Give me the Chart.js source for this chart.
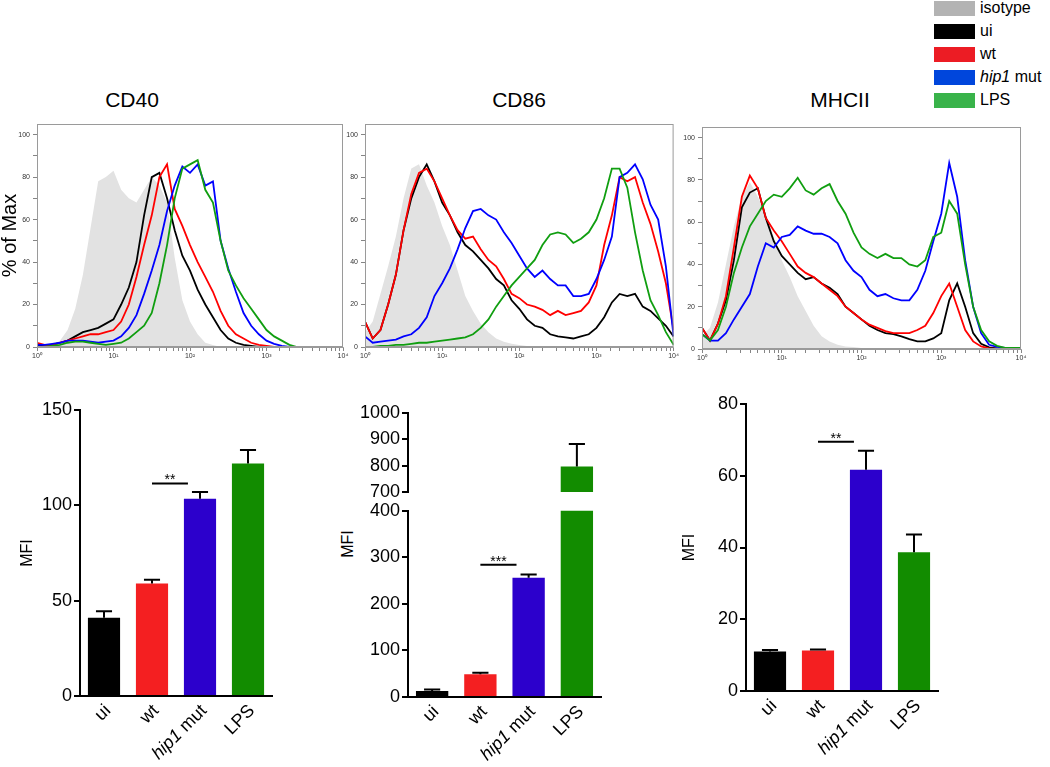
<!DOCTYPE html>
<html>
<head>
<meta charset="utf-8">
<title>CD40 / CD86 / MHCII</title>
<script src="https://cdn.jsdelivr.net/npm/chart.js@4.4.1/dist/chart.umd.min.js"></script>
<style>
  html, body { margin: 0; padding: 0; background: #fff; }
  body { position: relative; width: 1050px; height: 767px; overflow: hidden;
         font-family: "Liberation Sans", Arial, Helvetica, sans-serif; color: #000; }
  canvas { position: absolute; }
  .panel-title { position: absolute; top: 88px; width: 120px; margin-left: -60px; text-align: center; font-size: 21px; line-height: 24px; }
  .ylab { position: absolute; font-size: 16px; transform: translate(-50%, -50%) rotate(-90deg); white-space: nowrap; }
  .leg-row { position: absolute; left: 934px; height: 15px; }
  .leg-sw { position: absolute; left: 0; top: 0; width: 41px; height: 15px; }
  .leg-tx { position: absolute; left: 46px; top: -3px; font-size: 16px; line-height: 20px; white-space: nowrap; }
</style>
</head>
<body>
<div id="legend"></div>
<div id="titles"></div>
<div class="ylab" style="left:348px; top:544px;">MFI</div>

<canvas id="histCD40" width="350" height="260" style="left:0px; top:110px;"></canvas>
<canvas id="histCD86" width="335" height="260" style="left:345px; top:110px;"></canvas>
<canvas id="histMHCII" width="370" height="260" style="left:680px; top:110px;"></canvas>

<canvas id="barCD40" width="300" height="387" style="left:0px; top:380px;"></canvas>
<canvas id="barCD86top" width="300" height="105" style="left:320px; top:400px;"></canvas>
<canvas id="barCD86" width="300" height="269" style="left:320px; top:498px;"></canvas>
<canvas id="barMHCII" width="300" height="387" style="left:680px; top:380px;"></canvas>

<script>
// series / groups
const seriesNames = ['isotype', 'ui', 'wt', 'hip1 mut', 'LPS'];
const legendColors = ['#b3b3b3', '#000000', '#ec1c24', '#0046dc', '#39b34a'];
const lineColors = ['#e2e2e2', '#000000', '#ff0000', '#0000ff', '#109e10'];
const panelTitles = ['CD40', 'CD86', 'MHCII'];
const italicWords = ['hip1'];

// histogram bins (log10 of fluorescence)
const logPos = [0, 0.1, 0.2, 0.3, 0.4, 0.5, 0.6, 0.7, 0.8, 0.9, 1, 1.1, 1.2, 1.3, 1.4, 1.5, 1.6, 1.7, 1.8, 1.9,
                2, 2.1, 2.2, 2.3, 2.4, 2.5, 2.6, 2.7, 2.8, 2.9, 3, 3.1, 3.2, 3.3, 3.4, 3.5, 3.6, 3.7, 3.8, 3.9, 4];
const decadeTicks = [1, 10, 100, 1000, 10000];
const decadeLabels = ['10\u2070', '10\u00B9', '10\u00B2', '10\u00B3', '10\u2074'];
const histYTicks = [0, 5, 10, 15, 20, 25, 30, 35, 40, 45, 50, 55, 60, 65, 70, 75, 80, 85, 90, 95, 100];

// CD40 histograms (% of max)
const isoCD40 = [0, 0, 1, 3, 8, 18, 34, 56, 78, 80, 83, 74, 70, 68, 74, 80, 76, 68, 42, 22, 12, 6, 2, 1, 0, 0, 0, 0, 0, 0, 0, 0, 0, 0, 0, 0, 0, 0, 0, 0, 0];
const uiCD40 = [0.5, 0.5, 1, 2, 3, 5, 7, 8, 9, 11, 13, 20, 28, 40, 62, 80, 82, 70, 55, 43, 36, 27, 20, 14, 8, 4, 2, 1, 0.5, 0, 0, 0, 0, 0, 0, 0, 0, 0, 0, 0, 0];
const wtCD40 = [2, 1, 1, 2, 3, 4, 5, 6, 6, 7, 8, 12, 20, 33, 48, 62, 80, 86, 65, 57, 48, 40, 33, 26, 17, 10, 6, 4, 2, 1, 0.5, 0, 0, 0, 0, 0, 0, 0, 0, 0, 0];
const hipCD40 = [1, 1, 1.5, 2, 3, 3, 3, 2.5, 2, 2.5, 3, 5, 9, 15, 25, 36, 48, 64, 76, 85, 82, 86, 76, 78, 50, 37, 26, 16, 10, 6, 3, 1.5, 0.5, 0, 0, 0, 0, 0, 0, 0, 0];
const lpsCD40 = [0, 0, 0.5, 1, 2, 2.5, 2.5, 2, 1.5, 1, 1.5, 2, 4, 7, 10, 16, 30, 48, 70, 84, 86, 88, 74, 68, 50, 36, 29, 23, 18, 13, 8, 5, 3, 1, 0, 0, 0, 0, 0, 0, 0];

// CD86 histograms
const isoCD86 = [7, 12, 25, 38, 52, 70, 84, 86, 76, 68, 57, 48, 36, 24, 17, 11, 7, 4, 2.5, 1.5, 1, 0.5, 0.5, 0, 0, 0, 0, 0, 0, 0, 0, 0, 0, 0, 0, 0, 0, 0, 0, 0.5, 0.5];
const uiCD86 = [12, 4, 8, 20, 34, 55, 70, 80, 86, 78, 68, 62, 54, 48, 45, 41, 37, 32, 29, 22, 18, 13, 10, 9, 6, 5, 4.5, 4, 5, 6, 9, 14, 21, 25, 24, 25, 19, 17, 13.5, 10, 5];
const wtCD86 = [12, 4, 8, 20, 34, 55, 72, 82, 84, 78, 70, 62, 55, 51, 52, 46, 41, 38, 32, 25, 23, 20, 19, 17.5, 15, 17, 15, 16, 17, 21, 29, 48, 62, 80, 78, 80, 68, 58, 45, 30, 8];
const hipCD86 = [5, 2, 2.5, 3, 3.5, 5, 6, 9, 14, 24, 30, 37, 46, 56, 64, 65, 62, 60, 54, 49, 43, 37, 33, 36, 32, 29, 29, 24, 24, 25, 32, 41, 52, 80, 82, 86, 79, 67, 60, 38, 5];
const lpsCD86 = [0, 0, 0.5, 0.5, 1, 1, 1.5, 2, 2, 2.5, 3, 3.5, 4, 4.5, 6, 9, 13, 19, 24, 29, 33, 37, 41, 48, 53, 54, 53, 49, 51, 54, 60, 70, 84, 84, 75, 54, 36, 22, 15, 7, 1];

// MHCII histograms
const isoMHCII = [6, 10, 22, 40, 58, 72, 79, 72, 64, 53, 42, 34, 25, 18, 11, 6, 3.5, 2, 1.2, 1, 0.5, 0, 0, 0, 0, 0, 0, 0, 0, 0, 0, 0, 0, 0, 0, 0, 0, 0, 0, 0, 0];
const uiMHCII = [10, 4, 12, 23, 42, 67, 74, 76, 62, 51, 44, 40, 36, 33, 34, 31, 29, 26, 20, 17, 14, 11, 9, 7.5, 7, 6, 4.7, 3.6, 3.6, 5, 7.5, 23, 31, 20, 7.5, 2.5, 0.8, 0.3, 0, 0, 0];
const wtMHCII = [10, 4, 12, 25, 48, 72, 82, 76, 62, 56, 51, 45, 39, 36, 34, 31, 28, 25, 20, 17, 14, 11.5, 10, 8.5, 7.5, 7.5, 7.5, 9, 11, 17, 25, 31, 20, 9, 3.6, 1.2, 0.3, 0, 0, 0, 0];
const hipMHCII = [7, 4, 4, 7.5, 14, 20, 26, 39, 50, 48, 53, 54, 58, 56, 54.5, 54.5, 53, 50, 42, 37, 34, 28, 25, 26, 24, 23, 23, 28, 37, 51, 64, 88, 72, 42, 20, 7.5, 2, 1, 0.5, 0.5, 0.5];
const lpsMHCII = [7, 4, 9, 20, 36, 48, 58, 64, 70, 73, 72, 76, 81, 75, 73, 76, 78, 70, 64, 55, 48, 45, 43, 45, 43, 43, 40, 39, 42, 53, 55, 70, 64, 40, 20, 9, 3.6, 1.5, 0.5, 0.5, 0.5];

// MFI bar charts
const categories = ['ui', 'wt', 'hip1 mut', 'LPS'];
const barColors = ['#000000', '#f41f21', '#2c00cc', '#128c00'];
const mfiCD40 = [41, 59, 103.5, 122];
const errCD40 = [3.5, 2, 3.5, 7];
const mfiCD86 = [13, 49, 256, 797];
const errCD86 = [3, 3, 7, 85];
const mfiMHCII = [11, 11.3, 61.7, 38.7];
const errMHCII = [0.4, 0.3, 5.3, 4.9];
// significance bar (wt vs hip1 mut)
const sigLevel = [111.5, 284, 69.5];
const sigStars = ['**', '***', '**'];

const fontFam = '"Liberation Sans", Arial, Helvetica, sans-serif';
Chart.defaults.font.family = fontFam;
Chart.defaults.color = '#000';

// legend + titles
const legendEl = document.getElementById('legend');
seriesNames.forEach((name, k) => {
    const row = document.createElement('div');
    row.className = 'leg-row';
    row.style.top = (1 + 23 * k) + 'px';
    const sw = document.createElement('div');
    sw.className = 'leg-sw';
    sw.style.background = legendColors[k];
    const tx = document.createElement('div');
    tx.className = 'leg-tx';
    tx.innerHTML = name.split(' ').map(w => italicWords.includes(w) ? '<i>' + w + '</i>' : w).join(' ');
    row.appendChild(sw);
    row.appendChild(tx);
    legendEl.appendChild(row);
});
const titleCenters = [132, 519, 840];
panelTitles.forEach((t, i) => {
    const d = document.createElement('div');
    d.className = 'panel-title';
    d.style.left = titleCenters[i] + 'px';
    d.textContent = t;
    document.getElementById('titles').appendChild(d);
});

// grey frame round the histogram plot area
const frameBox = {
    id: 'frameBox',
    afterDatasetsDraw(chart) {
        const a = chart.chartArea, c = chart.ctx;
        c.save();
        c.strokeStyle = '#9a9a9a';
        c.lineWidth = 1;
        c.strokeRect(a.left + 0.5, a.top + 0.5, a.right - a.left - 1, a.bottom - a.top - 1);
        c.restore();
    }
};

function histogram(id, curves, cfg) {
    const datasets = seriesNames.map((name, k) => {
        const iso = k === 0;
        return {
            label: name,
            data: logPos.map((d, i) => ({ x: Math.pow(10, d), y: curves[k][i] })),
            borderColor: iso ? 'rgba(0,0,0,0)' : lineColors[k],
            backgroundColor: lineColors[k],
            borderWidth: iso ? 0 : 1.8,
            fill: iso ? 'origin' : false,
            pointRadius: 0,
            tension: 0,
            order: seriesNames.length - k
        };
    });
    return new Chart(document.getElementById(id), {
        type: 'line',
        data: { datasets },
        options: {
            responsive: false,
            animation: false,
            layout: { padding: { top: cfg.padTop, right: cfg.padRight, bottom: 0, left: 0 } },
            plugins: { legend: { display: false }, tooltip: { enabled: false } },
            scales: {
                x: {
                    type: 'logarithmic',
                    min: 1,
                    max: 10000,
                    afterFit: s => { s.height = cfg.hx; },
                    border: { color: '#9a9a9a', width: 1 },
                    grid: { drawOnChartArea: false, tickLength: 4, color: '#666', lineWidth: 0.8 },
                    ticks: {
                        autoSkip: false, maxRotation: 0, minRotation: 0, padding: 1,
                        color: '#333', font: { size: 7 },
                        callback: v => {
                            const i = decadeTicks.findIndex(t => Math.abs(t - v) < 1e-6 * t);
                            return i >= 0 ? decadeLabels[i] : '';
                        }
                    }
                },
                y: {
                    min: 0,
                    max: 105,
                    afterFit: s => { s.width = cfg.wy; },
                    afterBuildTicks: s => { s.ticks = histYTicks.map(v => ({ value: v })); },
                    border: { color: '#9a9a9a', width: 1 },
                    grid: { drawOnChartArea: false, tickLength: 4, color: '#666', lineWidth: 0.8 },
                    ticks: {
                        padding: 3, color: '#333', font: { size: 7 },
                        callback: v => (v % 20 === 0 ? String(v) : '')
                    },
                    title: {
                        display: !!cfg.ytitle, text: cfg.ytitle || '', color: '#000',
                        font: { size: 20, lineHeight: 1 }, padding: 0
                    }
                }
            }
        },
        plugins: [frameBox]
    });
}

// error bars + significance line
const errorBars = {
    id: 'errorBars',
    afterDatasetsDraw(chart, args, opts) {
        const meta = chart.getDatasetMeta(0);
        const ys = chart.scales.y, xs = chart.scales.x, a = chart.chartArea, c = chart.ctx;
        const vals = chart.data.datasets[0].data;
        c.save();
        c.strokeStyle = '#000';
        c.lineWidth = 2;
        opts.errors.forEach((e, i) => {
            const yBar = ys.getPixelForValue(vals[i]);
            const yTop = ys.getPixelForValue(vals[i] + e);
            if (yBar > a.bottom + 0.5 || yBar < a.top - 0.5 || yTop < a.top - 1) return;
            const x = meta.data[i].x, half = meta.data[i].width / 4;
            c.beginPath();
            c.moveTo(x, yBar);
            c.lineTo(x, yTop);
            c.moveTo(x - half, yTop);
            c.lineTo(x + half, yTop);
            c.stroke();
        });
        const ySig = ys.getPixelForValue(opts.sig);
        if (ySig >= a.top && ySig <= a.bottom) {
            const x1 = xs.getPixelForValue(1);
            const x2 = xs.getPixelForValue(2) - meta.data[2].width * 0.375;
            c.beginPath();
            c.moveTo(x1, ySig);
            c.lineTo(x2, ySig);
            c.stroke();
            c.fillStyle = '#000';
            c.font = '14px ' + fontFam;
            c.textAlign = 'center';
            c.textBaseline = 'alphabetic';
            c.fillText(opts.stars, (x1 + x2) / 2, ySig + 1);
        }
        c.restore();
    }
};

// rotated category labels, with italic gene name
const catLabels = {
    id: 'catLabels',
    afterDraw(chart, args, opts) {
        if (!opts.display) return;
        const xs = chart.scales.x, c = chart.ctx, y0 = chart.chartArea.bottom;
        c.save();
        c.fillStyle = '#000';
        c.textAlign = 'right';
        c.textBaseline = 'middle';
        chart.data.labels.forEach((lab, i) => {
            const x = xs.getPixelForValue(i);
            c.save();
            c.translate(x + 4, y0 + 12);
            c.rotate(-Math.PI / 4);
            c.font = '18px ' + fontFam;
            const space = c.measureText(' ').width;
            const words = lab.split(' ');
            let end = 0;
            for (let w = words.length - 1; w >= 0; w--) {
                c.font = (italicWords.includes(words[w]) ? 'italic ' : '') + '18px ' + fontFam;
                c.fillText(words[w], -end, 0);
                end += c.measureText(words[w]).width + space;
            }
            c.restore();
        });
        c.restore();
    }
};

function barChart(id, means, errs, sig, stars, cfg) {
    return new Chart(document.getElementById(id), {
        type: 'bar',
        data: {
            labels: categories,
            datasets: [{
                data: means,
                backgroundColor: barColors,
                borderWidth: 0,
                barPercentage: 0.67,
                categoryPercentage: 1,
                clip: 0
            }]
        },
        options: {
            responsive: false,
            animation: false,
            layout: { padding: { top: cfg.padTop, right: cfg.padRight, bottom: cfg.padBottom || 0, left: 0 } },
            plugins: {
                legend: { display: false },
                tooltip: { enabled: false },
                errorBars: { errors: errs, sig: sig, stars: stars },
                catLabels: { display: cfg.showX }
            },
            scales: {
                x: {
                    display: cfg.showX,
                    afterFit: s => { s.height = cfg.hx; },
                    grid: { display: false },
                    border: { color: '#000', width: 2 },
                    ticks: { display: false }
                },
                y: {
                    min: cfg.min,
                    max: cfg.max,
                    afterFit: s => { s.width = cfg.wy; },
                    border: { color: '#000', width: 2 },
                    grid: { drawOnChartArea: false, tickLength: 6, color: '#000', lineWidth: 2 },
                    ticks: { stepSize: cfg.step, color: '#000', padding: 2, font: { size: 18 }, callback: v => String(v) },
                    title: {
                        display: !!cfg.ytitle, text: cfg.ytitle || '', color: '#000',
                        font: { size: 16, lineHeight: 1 }, padding: { top: cfg.titlePad || 0, bottom: 0 }
                    }
                }
            }
        },
        plugins: [errorBars, catLabels]
    });
}

document.addEventListener('DOMContentLoaded', () => {
    histogram('histCD40', [isoCD40, uiCD40, wtCD40, hipCD40, lpsCD40],
        { padTop: 14, padRight: 7, hx: 23, wy: 37, ytitle: '% of Max' });
    histogram('histCD86', [isoCD86, uiCD86, wtCD86, hipCD86, lpsCD86],
        { padTop: 14, padRight: 3, hx: 23, wy: 20 });
    histogram('histMHCII', [isoMHCII, uiMHCII, wtMHCII, hipMHCII, lpsMHCII],
        { padTop: 17, padRight: 29, hx: 21, wy: 22 });

    barChart('barCD40', mfiCD40, errCD40, sigLevel[0], sigStars[0],
        { padTop: 30, padRight: 28, hx: 71, wy: 80, min: 0, max: 150, step: 50, showX: true, ytitle: 'MFI', titlePad: 19.5 });
    // broken axis: upper segment 700-1000, lower segment 0-400
    barChart('barCD86top', mfiCD86, errCD86, sigLevel[1], sigStars[1],
        { padTop: 12, padRight: 19, padBottom: 13, hx: 0, wy: 88, min: 700, max: 1000, step: 100, showX: false });
    barChart('barCD86', mfiCD86, errCD86, sigLevel[1], sigStars[1],
        { padTop: 11, padRight: 19, hx: 70, wy: 88, min: 0, max: 400, step: 100, showX: true });
    barChart('barMHCII', mfiMHCII, errMHCII, sigLevel[2], sigStars[2],
        { padTop: 24, padRight: 42, hx: 76, wy: 66, min: 0, max: 80, step: 20, showX: true, ytitle: 'MFI', titlePad: 2 });
});
</script>
</body>
</html>
